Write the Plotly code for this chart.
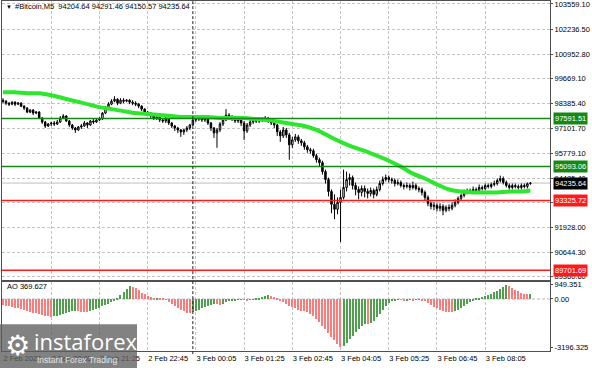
import pandas as pd
import plotly.graph_objects as go

# ---------------- data ----------------
bar_times = pd.date_range("2025-02-02 18:45", periods=176, freq="5min")

opens = [
    98551, 98499, 98396, 98344, 98447, 98344, 98396, 98241, 98138, 97931,
    98035, 97880, 97931, 97621, 97415, 97208, 97312, 97363, 97312, 97415,
    97621, 97725, 97467, 97260, 97105, 97002, 97157, 97208, 97363, 97260,
    97467, 97415, 97518, 97570, 97880, 98138, 98344, 98499, 98602, 98396,
    98551, 98499, 98551, 98447, 98396, 98344, 98241, 98086, 97931, 97880,
    97725, 97621, 97673, 97518, 97467, 97570, 97363, 97208, 97105, 97002,
    96899, 97002, 97105, 97260, 97518, 97570, 97621, 97518, 97570, 97363,
    97105, 96847, 97002, 97312, 97518, 97776, 97673, 97621, 97467, 97518,
    97363, 96950, 97260, 97415, 97518, 97467, 97570, 97518, 97621, 97467,
    97363, 97260, 96899, 96692, 97002, 96744, 96228, 96486, 96641, 96434,
    96331, 96124, 95970, 95918, 95660, 95453, 95298, 94834, 94421, 93801,
    93130, 92872, 93233, 93491, 94008, 94421, 94524, 94111, 93904, 93750,
    93956, 93801, 93698, 93853, 93646, 93904, 94214, 94421, 94524, 94421,
    94369, 94214, 94266, 94111, 94060, 94111, 94008, 94111, 93956, 93904,
    93750, 93491, 93182, 93027, 93079, 92924, 93027, 92821, 92975, 92924,
    93079, 93233, 93440, 93595, 93750, 93853, 93801, 93904, 93853, 94008,
    93956, 94111, 94060, 94163, 94214, 94369, 94472, 94266, 94111, 94008,
    94111, 94060, 94008, 94111, 94060, 94204.64,
]
highs = [
    98654, 98551, 98447, 98499, 98499, 98447, 98447, 98293, 98189, 98086,
    98086, 97983, 97983, 97673, 97467, 97363, 97415, 97467, 97518, 97725,
    97828, 97776, 97518, 97312, 97157, 97208, 97312, 97467, 97415, 97518,
    97570, 97621, 97673, 97931, 98241, 98447, 98602, 98757, 98654, 98654,
    98654, 98602, 98602, 98551, 98499, 98396, 98293, 98138, 97983, 97931,
    97828, 97725, 97725, 97621, 97673, 97621, 97415, 97260, 97157, 97054,
    97054, 97208, 97312, 97621, 97673, 97725, 97725, 97673, 97621, 97415,
    97157, 97105, 97415, 97621, 98086, 97880, 97776, 97725, 97621, 97621,
    97467, 97363, 97518, 97621, 97621, 97673, 97673, 97725, 97673, 97570,
    97467, 97312, 97002, 97157, 97105, 96847, 96641, 96796, 96744, 96538,
    96434, 96228, 96073, 96021, 95763, 95556, 95401, 94937, 94524, 93904,
    93646, 93491, 93904, 94937, 94834, 94730, 94627, 94266, 94060, 94111,
    94111, 93956, 94008, 93956, 94060, 94369, 94576, 94679, 94627, 94524,
    94472, 94421, 94369, 94214, 94266, 94214, 94318, 94214, 94060, 94008,
    93853, 93595, 93285, 93233, 93182, 93182, 93130, 93079, 93130, 93233,
    93388, 93543, 93698, 93904, 93956, 93956, 94060, 94008, 94163, 94111,
    94214, 94214, 94266, 94369, 94472, 94627, 94576, 94369, 94214, 94214,
    94214, 94163, 94214, 94214, 94266, 94291.46,
]
lows = [
    98396, 98293, 98241, 98293, 98241, 98293, 98189, 98035, 97880, 97880,
    97776, 97828, 97570, 97312, 97105, 97157, 97208, 97208, 97260, 97363,
    97570, 97415, 97157, 97002, 96847, 96950, 97054, 97157, 97105, 97208,
    97312, 97363, 97467, 97518, 97828, 98086, 98293, 98447, 98293, 98344,
    98396, 98447, 98344, 98293, 98241, 98138, 97983, 97880, 97776, 97621,
    97518, 97518, 97415, 97363, 97363, 97260, 97105, 96950, 96847, 96641,
    96744, 96899, 97002, 97208, 97415, 97467, 97415, 97415, 97260, 96950,
    96589, 96073, 96899, 97208, 97467, 97518, 97467, 97363, 97363, 97208,
    96486, 96847, 97157, 97312, 97363, 97363, 97415, 97415, 97363, 97260,
    97105, 96692, 96383, 96589, 96589, 95453, 96073, 96383, 96279, 96176,
    95970, 95815, 95763, 95556, 95298, 95092, 94679, 94214, 93543, 92666,
    92356, 92614, 91168, 93388, 93801, 94111, 93904, 93595, 93388, 93543,
    93491, 93440, 93543, 93440, 93543, 93801, 94111, 94318, 94266, 94214,
    94060, 94111, 94008, 93904, 93956, 93853, 93904, 93853, 93750, 93595,
    93337, 93027, 92872, 92821, 92769, 92769, 92562, 92717, 92769, 92821,
    92975, 93130, 93337, 93491, 93646, 93698, 93698, 93750, 93750, 93853,
    93853, 93956, 93956, 94060, 94111, 94266, 94163, 94008, 93904, 93904,
    93956, 93904, 93904, 93956, 93956, 94150.57,
]
closes = [
    98499, 98396, 98344, 98447, 98344, 98396, 98241, 98138, 97931, 98035,
    97880, 97931, 97621, 97415, 97208, 97312, 97363, 97312, 97415, 97621,
    97725, 97467, 97260, 97105, 97002, 97157, 97208, 97363, 97260, 97467,
    97415, 97518, 97570, 97880, 98138, 98344, 98499, 98602, 98396, 98551,
    98499, 98551, 98447, 98396, 98344, 98241, 98086, 97931, 97880, 97725,
    97621, 97673, 97518, 97467, 97570, 97363, 97208, 97105, 97002, 96899,
    97002, 97105, 97260, 97518, 97570, 97621, 97518, 97570, 97363, 97105,
    96847, 97002, 97312, 97518, 97776, 97673, 97621, 97467, 97518, 97363,
    96950, 97260, 97415, 97518, 97467, 97570, 97518, 97621, 97467, 97363,
    97260, 96899, 96692, 97002, 96744, 96228, 96486, 96641, 96434, 96331,
    96124, 95970, 95918, 95660, 95453, 95298, 94834, 94421, 93801, 93130,
    92872, 93233, 93491, 94008, 94421, 94524, 94111, 93904, 93750, 93956,
    93801, 93698, 93853, 93646, 93904, 94214, 94421, 94524, 94421, 94369,
    94214, 94266, 94111, 94060, 94111, 94008, 94111, 93956, 93904, 93750,
    93491, 93182, 93027, 93079, 92924, 93027, 92821, 92975, 92924, 93079,
    93233, 93440, 93595, 93750, 93853, 93801, 93904, 93853, 94008, 93956,
    94111, 94060, 94163, 94214, 94369, 94472, 94266, 94111, 94008, 94111,
    94060, 94008, 94111, 94060, 94204.64, 94235.64,
]

# moving average read at every 4th bar (bar index -> value)
ma_bars = [0, 4, 8, 12, 16, 20, 24, 28, 32, 36, 40, 44, 48, 52, 56, 60, 64, 68,
           72, 76, 80, 84, 88, 92, 96, 100, 104, 108, 112, 116, 120, 124, 128,
           132, 136, 140, 144, 148, 152, 156, 160, 164, 168, 172, 175]
ma_values = [98964, 98964, 98912, 98912, 98809, 98654, 98499, 98344, 98189,
             98086, 97983, 97880, 97828, 97776, 97725, 97673, 97673, 97673,
             97621, 97621, 97621, 97570, 97518, 97415, 97312, 97208, 97002,
             96692, 96383, 96124, 95918, 95660, 95401, 95092, 94730, 94472,
             94163, 93904, 93801, 93750, 93750, 93750, 93801, 93801, 93853]

ao_values = [
    -380, -420, -470, -520, -560, -600, -650, -700, -760, -820,
    -880, -930, -980, -1030, -1080, -1130, -1170, -1130, -1080, -1020,
    -960, -900, -850, -800, -760, -790, -820, -850, -860, -800,
    -720, -640, -560, -470, -380, -280, -180, -50, 100, 300,
    500, 700, 860, 820, 720, 600, 450, 320, 200, 120,
    70, 80, 40, 20, -30, -150, -280, -420, -560, -680,
    -790, -880, -920, -850, -760, -680, -600, -530, -460, -390,
    -320, -340, -360, -290, -210, -140, -90, -60, -40, -30,
    -45, -60, -40, -5, 40, 100, 170, 230, 280, 250,
    160, 60, -60, -180, -300, -420, -520, -600, -700, -760,
    -800, -830, -950, -1120, -1320, -1530, -1750, -1980, -2230, -2480,
    -2730, -2970, -3196.325, -3080, -2900, -2650, -2420, -2200, -1980, -1780,
    -1620, -1660, -1560, -1420, -1200, -950, -700, -450, -260, -120,
    -50, -20, -40, -60, -50, -40, -55, -45, -30, -60,
    -120, -250, -380, -500, -610, -700, -780, -830, -860, -870,
    -800, -700, -560, -420, -280, -160, -60, 30, 100, 170,
    230, 300, 380, 470, 580, 700, 820, 949.351, 880, 750,
    620, 520, 440, 380, 330, 369.627,
]

price_ticks = [103559.10, 102236.50, 100952.80, 99669.10, 98385.40, 97101.70,
               95779.10, 94485.40, 93201.70, 91928.00, 90644.30, 89360.60]
price_tick_text = ["103559.10", "102236.50", "100952.80", "99669.10", "98385.40",
                   "97101.70", "95779.10", "94485.40", "93201.70", "91928.00",
                   "90644.30", "89360.60"]

time_ticks = ["2025-02-02 18:45", "2025-02-02 20:05", "2025-02-02 21:25",
              "2025-02-02 22:45", "2025-02-03 00:05", "2025-02-03 01:25",
              "2025-02-03 02:45", "2025-02-03 04:05", "2025-02-03 05:25",
              "2025-02-03 06:45", "2025-02-03 08:05"]
time_tick_text = ["2 Feb 2025", "2 Feb 20:05", "2 Feb 21:25", "2 Feb 22:45",
                  "3 Feb 00:05", "3 Feb 01:25", "3 Feb 02:45", "3 Feb 04:05",
                  "3 Feb 05:25", "3 Feb 06:45", "3 Feb 08:05"]

green_levels = [97591.51, 95093.06]
red_levels = [93325.72, 89701.69]
last_price = 94235.64
ao_ticks = [949.351, 0.0, -3196.325]
ao_tick_text = ["949.351", "0.00", "-3196.325"]
header = "#Bitcoin,M5  94204.64 94291.46 94150.57 94235.64"
ao_title = "AO 369.627"
day_separator = "2025-02-03 00:00"

# ---------------- figure ----------------
W, H = 592, 370
XL, XR = 2, 550
FONT = "Liberation Sans"
GRID = "#c4c4c4"
DASH = "3px,2px"


def py(px):  # pixel row -> paper y
    return (H - px) / H


fig = go.Figure()

fig.add_trace(go.Candlestick(
    x=bar_times, open=opens, high=highs, low=lows, close=closes,
    increasing=dict(line=dict(color="#000000", width=1), fillcolor="#ffffff"),
    decreasing=dict(line=dict(color="#000000", width=1), fillcolor="#000000"),
    whiskerwidth=0, xaxis="x", yaxis="y", showlegend=False, hoverinfo="skip"))

fig.add_trace(go.Scatter(
    x=[bar_times[i] for i in ma_bars], y=ma_values, mode="lines",
    line=dict(color="#2ee62e", width=4, shape="spline", smoothing=0.8),
    xaxis="x", yaxis="y", showlegend=False, hoverinfo="skip"))

ao_colors = []
for i, v in enumerate(ao_values):
    up = i > 0 and v > ao_values[i - 1]
    ao_colors.append("#4f9f4f" if up else "#ff7b7b")

fig.add_trace(go.Bar(
    x=bar_times, y=ao_values, marker=dict(color=ao_colors, line=dict(width=0)),
    width=110000, xaxis="x2", yaxis="y2", showlegend=False, hoverinfo="skip"))

x_start = bar_times[0] - pd.Timedelta(seconds=100)
x_end = bar_times[0] + pd.Timedelta(minutes=5 * 181.5)

axis_common = dict(showline=True, linecolor="#505050", linewidth=1, mirror=True,
                   zeroline=False)

fig.update_layout(
    width=W, height=H, margin=dict(l=0, r=0, t=0, b=0),
    paper_bgcolor="#ffffff", plot_bgcolor="#ffffff",
    font=dict(family=FONT, size=8, color="#000000"),
    bargap=0, showlegend=False,
    xaxis=dict(domain=[XL / W, XR / W], range=[x_start, x_end], type="date",
               anchor="y", showticklabels=False, tickvals=time_ticks,
               showgrid=True, gridcolor=GRID, griddash=DASH, gridwidth=1,
               rangeslider=dict(visible=False), ticks="", **axis_common),
    yaxis=dict(domain=[py(281), 1.0], range=[89206, 103714], side="right",
               anchor="x", tickvals=price_ticks, ticktext=price_tick_text,
               tickfont=dict(size=7.5, family=FONT, color="#000000"),
               ticks="outside", ticklen=2, tickcolor="#505050",
               ticklabeloverflow="allow",
               showgrid=True, gridcolor=GRID, griddash=DASH, gridwidth=1,
               **axis_common),
    xaxis2=dict(domain=[XL / W, XR / W], matches="x", type="date", anchor="y2",
                tickvals=time_ticks, ticktext=time_tick_text,
                ticklabelposition="outside right", ticklabeloverflow="allow",
                tickfont=dict(size=7.5, family=FONT, color="#000000"),
                ticks="", showgrid=True, gridcolor=GRID, griddash=DASH, gridwidth=1,
                **axis_common),
    yaxis2=dict(domain=[py(353), py(283)], range=[-3460, 1147], side="right",
                anchor="x2", tickvals=ao_ticks, ticktext=ao_tick_text,
                tickfont=dict(size=7.5, family=FONT, color="#000000"),
                ticks="outside", ticklen=2, tickcolor="#505050",
                ticklabeloverflow="allow",
                showgrid=False, **axis_common),
)

shapes = []
# AO zero line
shapes.append(dict(type="line", xref="x2 domain", yref="y2", x0=0, x1=1, y0=0, y1=0,
                   line=dict(color="#b8b8b8", width=1, dash=DASH), layer="below"))
# last price line
shapes.append(dict(type="line", xref="x domain", yref="y", x0=0, x1=1,
                   y0=last_price, y1=last_price,
                   line=dict(color="#c0c0c0", width=1), layer="below"))
for lv in green_levels:
    shapes.append(dict(type="line", xref="x domain", yref="y", x0=0, x1=1, y0=lv, y1=lv,
                       line=dict(color="#138a13", width=1.5), layer="above"))
for lv in red_levels:
    shapes.append(dict(type="line", xref="x domain", yref="y", x0=0, x1=1, y0=lv, y1=lv,
                       line=dict(color="#ff1a1a", width=1.5), layer="above"))
# day separator
shapes.append(dict(type="line", xref="x", yref="paper", x0=day_separator, x1=day_separator,
                   y0=py(356), y1=1.0, line=dict(color="#202020", width=1, dash=DASH),
                   layer="above"))
# watermark box
shapes.append(dict(type="rect", xref="paper", yref="paper", x0=0, x1=137 / W,
                   y0=0, y1=py(326), line=dict(width=0),
                   fillcolor="rgba(95,95,95,0.78)", layer="above"))
fig.update_layout(shapes=shapes)

ann = []


def level_box(value, bg):
    ann.append(dict(xref="paper", yref="y", x=553 / W, y=value, text=f"{value:.2f}",
                    showarrow=False, xanchor="left", yanchor="middle",
                    font=dict(size=7.5, color="#ffffff", family=FONT),
                    bgcolor=bg, borderpad=1))


for lv in green_levels:
    level_box(lv, "#138a13")
level_box(last_price, "#000000")
for lv in red_levels:
    level_box(lv, "#ff1a1a")

ann.append(dict(xref="paper", yref="paper", x=4 / W, y=py(6), text="▼", showarrow=False,
                xanchor="left", yanchor="middle", font=dict(size=6, color="#000000")))
ann.append(dict(xref="paper", yref="paper", x=13 / W, y=py(6), text=header,
                showarrow=False, xanchor="left", yanchor="middle",
                font=dict(size=7.5, color="#000000", family=FONT)))
ann.append(dict(xref="paper", yref="paper", x=5 / W, y=py(288), text=ao_title,
                showarrow=False, xanchor="left", yanchor="middle",
                font=dict(size=7.5, color="#000000", family=FONT)))
# watermark text
ann.append(dict(xref="paper", yref="paper", x=3 / W, y=py(347), text="⚙",
                showarrow=False, xanchor="left", yanchor="middle",
                font=dict(size=28, color="#ffffff", family="DejaVu Sans")))
ann.append(dict(xref="paper", yref="paper", x=32 / W, y=py(343), text="instaforex",
                showarrow=False, xanchor="left", yanchor="middle",
                font=dict(size=22, color="#ffffff", family="Open Sans")))
ann.append(dict(xref="paper", yref="paper", x=35 / W, y=py(362),
                text="Instant Forex Trading", showarrow=False, xanchor="left",
                yanchor="middle", font=dict(size=8.5, color="#e6e6e6", family=FONT)))
fig.update_layout(annotations=ann)

fig.write_html("out.html",
               config={"displayModeBar": False},
               post_script="document.body.style.margin='0';"
                           "document.body.style.overflow='hidden';")
